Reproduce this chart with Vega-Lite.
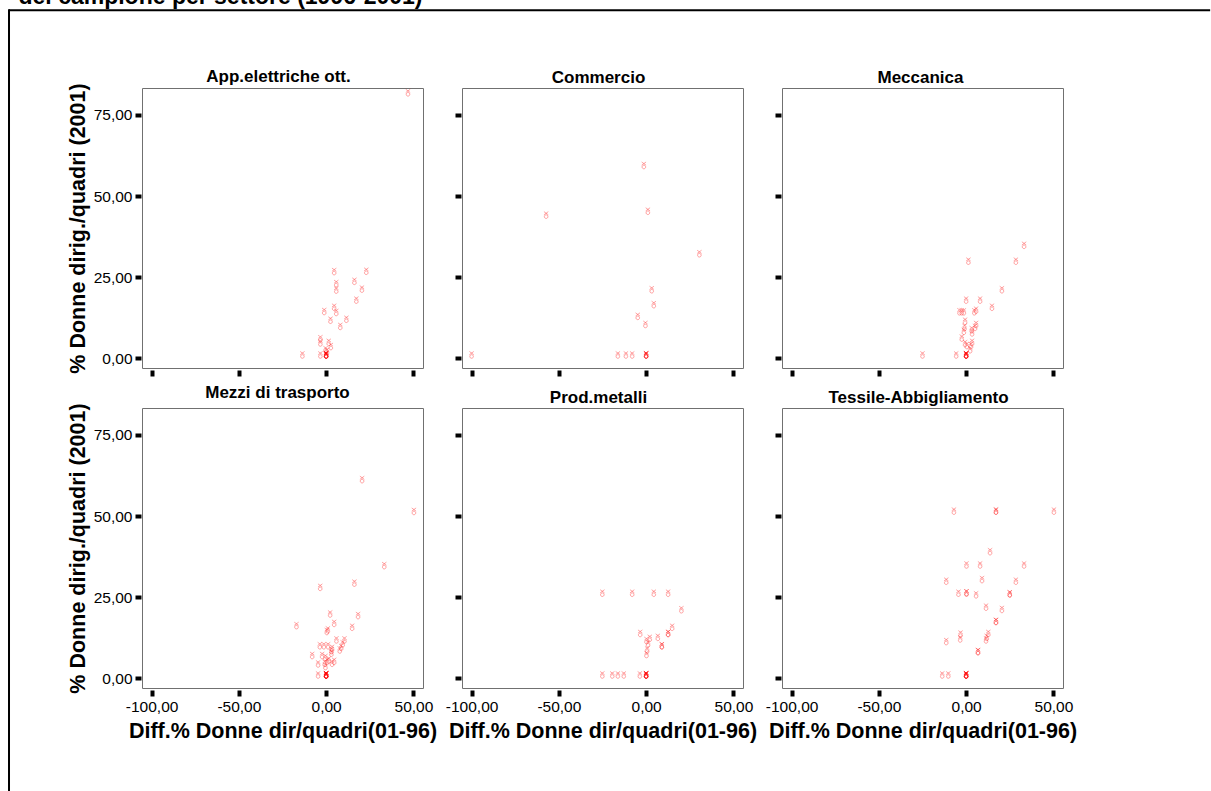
{
  "$schema": "https://vega.github.io/schema/vega-lite/v6.json",
  "padding": {"left": 7, "top": -15, "right": 0, "bottom": 0},
  "title": {
    "text": "del campione per settore (1996-2001)",
    "anchor": "start",
    "fontSize": 23,
    "fontWeight": "bold",
    "dx": 11,
    "offset": -1
  },
  "datasets": {
    "app": [
      {"diff": 46.9, "pct": 80.8}, {"diff": 4.6, "pct": 25.7}, {"diff": 23.0, "pct": 25.8}, {"diff": 16.2, "pct": 22.7},
      {"diff": 5.8, "pct": 22.0}, {"diff": 5.8, "pct": 20.0}, {"diff": 20.5, "pct": 20.3}, {"diff": 17.3, "pct": 16.9},
      {"diff": 4.6, "pct": 14.7}, {"diff": 5.8, "pct": 13.1}, {"diff": -1.1, "pct": 13.4}, {"diff": 2.5, "pct": 10.7},
      {"diff": 11.6, "pct": 11.0}, {"diff": 8.1, "pct": 8.8}, {"diff": -3.3, "pct": 5.0}, {"diff": -3.3, "pct": 3.7},
      {"diff": 1.5, "pct": 3.9}, {"diff": 2.7, "pct": 2.6}, {"diff": -0.3, "pct": 1.6}, {"diff": 0.5, "pct": 1.1},
      {"diff": -13.6, "pct": 0}, {"diff": -3.3, "pct": 0},
      {"diff": 0, "pct": 0}, {"diff": 0, "pct": 0}, {"diff": 0, "pct": 0}, {"diff": 0, "pct": 0}, {"diff": 0, "pct": 0}, {"diff": 0, "pct": 0}
    ],
    "commercio": [
      {"diff": -1.3, "pct": 58.4}, {"diff": 1.0, "pct": 44.3}, {"diff": -57.3, "pct": 43.1}, {"diff": 30.5, "pct": 31.2},
      {"diff": 3.2, "pct": 20.1}, {"diff": 4.4, "pct": 15.5}, {"diff": -4.8, "pct": 11.9}, {"diff": -0.4, "pct": 9.4},
      {"diff": -100, "pct": 0}, {"diff": -16.2, "pct": 0}, {"diff": -11.6, "pct": 0}, {"diff": -8.0, "pct": 0},
      {"diff": 0, "pct": 0}, {"diff": 0, "pct": 0}, {"diff": 0, "pct": 0}, {"diff": 0, "pct": 0}
    ],
    "meccanica": [
      {"diff": 33.2, "pct": 33.8}, {"diff": 28.5, "pct": 28.9}, {"diff": 1.3, "pct": 28.9}, {"diff": 20.5, "pct": 20.1},
      {"diff": 14.8, "pct": 14.7}, {"diff": 0, "pct": 16.9}, {"diff": 8.0, "pct": 16.9}, {"diff": -3.8, "pct": 13.3},
      {"diff": -2.5, "pct": 13.3}, {"diff": -1.3, "pct": 13.3}, {"diff": 4.7, "pct": 13.3}, {"diff": 5.7, "pct": 13.8},
      {"diff": -0.6, "pct": 10.4}, {"diff": 5.7, "pct": 9.4}, {"diff": 5.1, "pct": 8.5}, {"diff": 3.2, "pct": 7.8},
      {"diff": 3.4, "pct": 6.8}, {"diff": -0.9, "pct": 8.5}, {"diff": -1.3, "pct": 7.3}, {"diff": -2.5, "pct": 5.2},
      {"diff": -0.6, "pct": 3.5}, {"diff": 0.4, "pct": 2.9}, {"diff": 3.4, "pct": 3.9}, {"diff": 2.8, "pct": 2.9},
      {"diff": 2.3, "pct": 1.6}, {"diff": -25.0, "pct": 0}, {"diff": -5.7, "pct": 0},
      {"diff": 0, "pct": 0}, {"diff": 0, "pct": 0}, {"diff": 0, "pct": 0}, {"diff": 0, "pct": 0}, {"diff": 0, "pct": 0}, {"diff": 0, "pct": 0}
    ],
    "trasporto": [
      {"diff": 20.6, "pct": 60.2}, {"diff": 50.3, "pct": 50.4}, {"diff": 33.3, "pct": 33.7}, {"diff": 16.2, "pct": 28.3},
      {"diff": -3.4, "pct": 27.0}, {"diff": 2.3, "pct": 18.8}, {"diff": 18.3, "pct": 18.3}, {"diff": 4.6, "pct": 15.9},
      {"diff": -17.0, "pct": 15.2}, {"diff": 14.9, "pct": 14.7}, {"diff": 0.4, "pct": 13.4}, {"diff": 1.0, "pct": 13.9},
      {"diff": 5.9, "pct": 10.8}, {"diff": 10.5, "pct": 10.8}, {"diff": 9.5, "pct": 9.6}, {"diff": 8.6, "pct": 8.5},
      {"diff": 7.8, "pct": 7.7}, {"diff": -3.6, "pct": 9.0}, {"diff": -1.3, "pct": 9.0}, {"diff": 1.1, "pct": 9.0},
      {"diff": 3.4, "pct": 8.2}, {"diff": 3.0, "pct": 7.5}, {"diff": 3.0, "pct": 6.7}, {"diff": -8.0, "pct": 6.0},
      {"diff": -2.3, "pct": 6.0}, {"diff": -0.4, "pct": 5.4}, {"diff": 1.5, "pct": 4.6}, {"diff": 0.6, "pct": 4.2},
      {"diff": 3.4, "pct": 3.6}, {"diff": 4.6, "pct": 4.2}, {"diff": -4.6, "pct": 3.4}, {"diff": -0.8, "pct": 3.6},
      {"diff": -0.4, "pct": 2.6}, {"diff": -4.6, "pct": 0},
      {"diff": 0, "pct": 0}, {"diff": 0, "pct": 0}, {"diff": 0, "pct": 0}, {"diff": 0, "pct": 0},
      {"diff": 0, "pct": 0}, {"diff": 0, "pct": 0}, {"diff": 0, "pct": 0}, {"diff": 0, "pct": 0}
    ],
    "metalli": [
      {"diff": -25.1, "pct": 25.2}, {"diff": -8.0, "pct": 25.2}, {"diff": 4.4, "pct": 25.2}, {"diff": 12.6, "pct": 25.2},
      {"diff": 20.2, "pct": 20.1}, {"diff": 14.9, "pct": 14.7}, {"diff": 12.6, "pct": 12.8}, {"diff": 12.6, "pct": 12.8},
      {"diff": -3.4, "pct": 12.8}, {"diff": 6.7, "pct": 11.6}, {"diff": 2.1, "pct": 11.3}, {"diff": 0.2, "pct": 10.6},
      {"diff": 1.1, "pct": 9.6}, {"diff": 9.0, "pct": 9.0}, {"diff": 9.0, "pct": 9.0}, {"diff": 0.6, "pct": 7.7},
      {"diff": 0.2, "pct": 6.3}, {"diff": -25.1, "pct": 0}, {"diff": -19.4, "pct": 0}, {"diff": -16.2, "pct": 0},
      {"diff": -12.8, "pct": 0}, {"diff": -3.6, "pct": 0},
      {"diff": 0, "pct": 0}, {"diff": 0, "pct": 0}, {"diff": 0, "pct": 0}, {"diff": 0, "pct": 0}, {"diff": 0, "pct": 0}, {"diff": 0, "pct": 0}
    ],
    "tessile": [
      {"diff": -7.0, "pct": 50.5}, {"diff": 17.1, "pct": 50.5}, {"diff": 17.1, "pct": 50.5}, {"diff": 50.3, "pct": 50.5},
      {"diff": 13.7, "pct": 38.0}, {"diff": 0.2, "pct": 33.9}, {"diff": 8.0, "pct": 33.9}, {"diff": 33.2, "pct": 33.9},
      {"diff": -11.4, "pct": 28.9}, {"diff": 9.1, "pct": 29.4}, {"diff": 28.5, "pct": 28.9}, {"diff": -4.4, "pct": 25.2},
      {"diff": 0.2, "pct": 25.3}, {"diff": 0.2, "pct": 25.3}, {"diff": 5.7, "pct": 24.7}, {"diff": 25.0, "pct": 25.0},
      {"diff": 25.0, "pct": 25.0}, {"diff": 11.4, "pct": 20.9}, {"diff": 20.5, "pct": 20.2}, {"diff": 17.1, "pct": 16.5},
      {"diff": 17.1, "pct": 16.5}, {"diff": -3.2, "pct": 12.6}, {"diff": -3.4, "pct": 11.1}, {"diff": -11.4, "pct": 10.3},
      {"diff": 12.7, "pct": 12.8}, {"diff": 11.8, "pct": 11.6}, {"diff": 11.4, "pct": 10.8}, {"diff": 6.8, "pct": 7.2},
      {"diff": 6.8, "pct": 7.2}, {"diff": -13.7, "pct": 0}, {"diff": -10.2, "pct": 0},
      {"diff": 0, "pct": 0}, {"diff": 0, "pct": 0}, {"diff": 0, "pct": 0}, {"diff": 0, "pct": 0}, {"diff": 0, "pct": 0}, {"diff": 0, "pct": 0}
    ]
  },
  "columns": 3,
  "bounds": "flush",
  "spacing": {"row": 40, "column": 39},
  "concat": [
    {
      "title": {"text": "App.elettriche ott.", "frame": "group", "dx": -4, "offset": -78},
      "width": 281, "height": 280,
      "layer": [
        {
          "data": {"name": "app"},
          "mark": {"type": "point", "shape": "M-0.55,-1.7L0.55,-0.9M0.55,-1.7L-0.55,-0.9M-0.45,-0.45A0.45,0.45 0 1,0 0.45,-0.45A0.45,0.45 0 1,0 -0.45,-0.45", "size": 64, "filled": false, "stroke": "#ff0000", "strokeOpacity": 0.5, "strokeWidth": 1},
          "encoding": {
            "x": {"field": "diff", "type": "quantitative", "scale": {"domain": [-105.5, 55.5], "nice": false, "zero": false}, "axis": {"values": [-100, -50, 0, 50], "format": ".2f", "labels": false, "title": null}},
            "y": {"field": "pct", "type": "quantitative", "scale": {"domain": [-3, 83.3], "nice": false, "zero": false}, "axis": {"values": [0, 25, 50, 75], "format": ".2f", "title": "% Donne dirig./quadri (2001)"}}
          }
        },
        {
          "data": {"values": [{}]},
          "mark": {"type": "rule", "color": "#000000", "strokeWidth": 2},
          "encoding": {"x": {"datum": -181.7}, "y": {"datum": 107.6}, "y2": {"datum": -133.9}}
        },
        {
          "data": {"values": [{}]},
          "mark": {"type": "rule", "color": "#000000", "strokeWidth": 2},
          "encoding": {"x": {"datum": -181.7}, "x2": {"datum": 506.5}, "y": {"datum": 107.3}}
        }
      ]
    },
    {
      "title": {"text": "Commercio", "frame": "group", "dx": -4},
      "width": 281, "height": 280,
      "data": {"name": "commercio"},
      "mark": {"type": "point", "shape": "M-0.55,-1.7L0.55,-0.9M0.55,-1.7L-0.55,-0.9M-0.45,-0.45A0.45,0.45 0 1,0 0.45,-0.45A0.45,0.45 0 1,0 -0.45,-0.45", "size": 64, "filled": false, "stroke": "#ff0000", "strokeOpacity": 0.5, "strokeWidth": 1},
      "encoding": {
        "x": {"field": "diff", "type": "quantitative", "scale": {"domain": [-105.5, 55.5], "nice": false, "zero": false}, "axis": {"values": [-100, -50, 0, 50], "format": ".2f", "labels": false, "title": null}},
        "y": {"field": "pct", "type": "quantitative", "scale": {"domain": [-3, 83.3], "nice": false, "zero": false}, "axis": {"values": [0, 25, 50, 75], "format": ".2f", "labels": false, "title": null}}
      }
    },
    {
      "title": {"text": "Meccanica", "frame": "group", "dx": -2},
      "width": 281, "height": 280,
      "data": {"name": "meccanica"},
      "mark": {"type": "point", "shape": "M-0.55,-1.7L0.55,-0.9M0.55,-1.7L-0.55,-0.9M-0.45,-0.45A0.45,0.45 0 1,0 0.45,-0.45A0.45,0.45 0 1,0 -0.45,-0.45", "size": 64, "filled": false, "stroke": "#ff0000", "strokeOpacity": 0.5, "strokeWidth": 1},
      "encoding": {
        "x": {"field": "diff", "type": "quantitative", "scale": {"domain": [-105.5, 55.5], "nice": false, "zero": false}, "axis": {"values": [-100, -50, 0, 50], "format": ".2f", "labels": false, "title": null}},
        "y": {"field": "pct", "type": "quantitative", "scale": {"domain": [-3, 83.3], "nice": false, "zero": false}, "axis": {"values": [0, 25, 50, 75], "format": ".2f", "labels": false, "title": null}}
      }
    },
    {
      "title": {"text": "Mezzi di trasporto", "frame": "group", "dx": -5},
      "width": 281, "height": 280,
      "data": {"name": "trasporto"},
      "mark": {"type": "point", "shape": "M-0.55,-1.7L0.55,-0.9M0.55,-1.7L-0.55,-0.9M-0.45,-0.45A0.45,0.45 0 1,0 0.45,-0.45A0.45,0.45 0 1,0 -0.45,-0.45", "size": 64, "filled": false, "stroke": "#ff0000", "strokeOpacity": 0.5, "strokeWidth": 1},
      "encoding": {
        "x": {"field": "diff", "type": "quantitative", "scale": {"domain": [-105.5, 55.5], "nice": false, "zero": false}, "axis": {"values": [-100, -50, 0, 50], "format": ".2f", "title": "Diff.% Donne dir/quadri(01-96)"}},
        "y": {"field": "pct", "type": "quantitative", "scale": {"domain": [-3, 83.3], "nice": false, "zero": false}, "axis": {"values": [0, 25, 50, 75], "format": ".2f", "title": "% Donne dirig./quadri (2001)"}}
      }
    },
    {
      "title": {"text": "Prod.metalli", "frame": "group", "dx": -4},
      "width": 281, "height": 280,
      "data": {"name": "metalli"},
      "mark": {"type": "point", "shape": "M-0.55,-1.7L0.55,-0.9M0.55,-1.7L-0.55,-0.9M-0.45,-0.45A0.45,0.45 0 1,0 0.45,-0.45A0.45,0.45 0 1,0 -0.45,-0.45", "size": 64, "filled": false, "stroke": "#ff0000", "strokeOpacity": 0.5, "strokeWidth": 1},
      "encoding": {
        "x": {"field": "diff", "type": "quantitative", "scale": {"domain": [-105.5, 55.5], "nice": false, "zero": false}, "axis": {"values": [-100, -50, 0, 50], "format": ".2f", "title": "Diff.% Donne dir/quadri(01-96)"}},
        "y": {"field": "pct", "type": "quantitative", "scale": {"domain": [-3, 83.3], "nice": false, "zero": false}, "axis": {"values": [0, 25, 50, 75], "format": ".2f", "labels": false, "title": null}}
      }
    },
    {
      "title": {"text": "Tessile-Abbigliamento", "frame": "group", "dx": -4},
      "width": 281, "height": 280,
      "data": {"name": "tessile"},
      "mark": {"type": "point", "shape": "M-0.55,-1.7L0.55,-0.9M0.55,-1.7L-0.55,-0.9M-0.45,-0.45A0.45,0.45 0 1,0 0.45,-0.45A0.45,0.45 0 1,0 -0.45,-0.45", "size": 64, "filled": false, "stroke": "#ff0000", "strokeOpacity": 0.5, "strokeWidth": 1},
      "encoding": {
        "x": {"field": "diff", "type": "quantitative", "scale": {"domain": [-105.5, 55.5], "nice": false, "zero": false}, "axis": {"values": [-100, -50, 0, 50], "format": ".2f", "title": "Diff.% Donne dir/quadri(01-96)"}},
        "y": {"field": "pct", "type": "quantitative", "scale": {"domain": [-3, 83.3], "nice": false, "zero": false}, "axis": {"values": [0, 25, 50, 75], "format": ".2f", "labels": false, "title": null}}
      }
    }
  ],
  "config": {
    "font": "Liberation Sans",
    "locale": {"number": {"decimal": ",", "thousands": ".", "grouping": [3], "currency": ["€", ""], "minus": "-"}},
    "view": {"stroke": "#707070", "strokeWidth": 1},
    "title": {"fontSize": 17, "fontWeight": "bold", "color": "#000000", "offset": 1},
    "axis": {
      "domain": false, "grid": false,
      "tickColor": "#000000", "tickWidth": 4, "tickSize": 6,
      "labelFontSize": 15.5, "labelColor": "#000000",
      "titleFontSize": 21.5, "titleFontWeight": "bold", "titleColor": "#000000"
    },
    "axisX": {"offset": 2, "labelPadding": 3, "titlePadding": 6},
    "axisY": {"offset": 1, "labelPadding": 3, "titlePadding": 4}
  }
}
